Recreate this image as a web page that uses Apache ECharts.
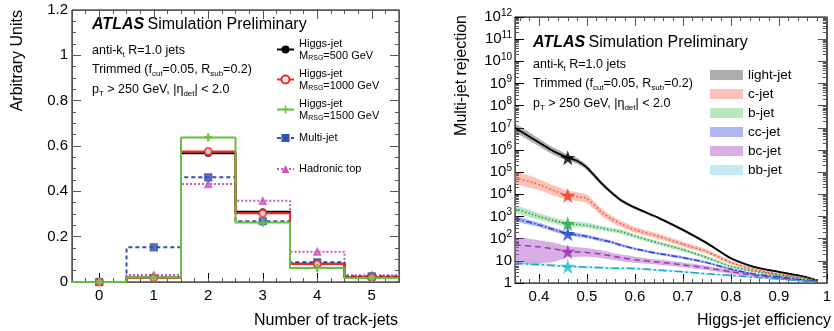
<!DOCTYPE html>
<html>
<head>
<meta charset="utf-8">
<script src="https://cdn.jsdelivr.net/npm/echarts@6/dist/echarts.min.js"></script>
<style>
  html, body { margin: 0; padding: 0; background: #fff; }
  #chart { width: 834px; height: 331px; }
</style>
</head>
<body>
<div id="chart"></div>
<script>
const FONT = '"Liberation Sans", Arial, Helvetica, sans-serif';

// left panel: track-jet multiplicity, normalised
const trackJets = [0, 1, 2, 3, 4, 5];
const higgs500 = [0, 0.020, 0.568, 0.310, 0.080, 0.020];
const higgs1000 = [0, 0.018, 0.576, 0.303, 0.079, 0.020];
const higgs1500 = [0, 0.020, 0.638, 0.262, 0.062, 0.018];
const multiJet = [0, 0.153, 0.462, 0.268, 0.087, 0.025];
const hadTop = [0, 0.031, 0.432, 0.358, 0.134, 0.030];

// right panel: multi-jet rejection vs Higgs-jet efficiency
const effX = [0.35, 0.40, 0.43, 0.46, 0.48, 0.50, 0.53, 0.55, 0.57, 0.60, 0.65, 0.70, 0.75, 0.80, 0.85, 0.90, 0.95, 0.98];
const lightRej = [1.0e7, 2.2e6, 8.9e5, 4.5e5, 3.2e5, 1.6e5, 3.2e4, 1.26e4, 5.6e3, 2.5e3, 850, 250, 63, 13, 5.2, 3.2, 2.0, 1.3];
const cRej = [5.6e4, 2.8e4, 1.5e4, 8.9e3, 7.9e3, 6.3e3, 1.6e3, 800, 480, 250, 126, 56, 26, 8.3, 4.0, 2.5, 1.8, 1.3];
const bRej = [2240, 1000, 660, 470, 440, 400, 300, 250, 210, 130, 63, 32, 14, 5.6, 3.3, 2.3, 1.6, 1.26];
const ccRej = [800, 420, 260, 166, 148, 126, 89, 71, 52, 35, 21, 14, 8.3, 4.2, 2.5, 1.9, 1.4, 1.2];
const bcRej = [52, 43, 35, 26, 25, 24, 20, 16.6, 14, 11.2, 8.7, 6.6, 4.8, 3.2, 2.2, 1.66, 1.3, 1.15];
const bbRej = [7.6, 6.8, 6.2, 5.6, 5.4, 5.2, 4.9, 4.7, 4.6, 4.5, 3.8, 3.2, 2.6, 2.2, 1.8, 1.5, 1.26, 1.12];

// uncertainty bands, in decades above / below the curve
const lightBand = [0.18, 0.17, 0.16, 0.14, 0.13, 0.12, 0.10, 0.09, 0.08, 0.07, 0.06, 0.06, 0.05, 0.05, 0.04, 0.04, 0.04, 0.03];
const cBand = [0.26, 0.25, 0.23, 0.21, 0.20, 0.19, 0.17, 0.15, 0.14, 0.13, 0.12, 0.11, 0.10, 0.09, 0.08, 0.07, 0.05, 0.04];
const bBand = [0.16, 0.15, 0.14, 0.13, 0.13, 0.12, 0.11, 0.10, 0.10, 0.09, 0.08, 0.08, 0.07, 0.06, 0.05, 0.05, 0.04, 0.03];
const ccBand = [0.11, 0.10, 0.10, 0.09, 0.09, 0.08, 0.08, 0.07, 0.07, 0.06, 0.06, 0.06, 0.05, 0.05, 0.04, 0.04, 0.03, 0.03];
const bcBandUp = [0.30, 0.30, 0.28, 0.24, 0.22, 0.20, 0.18, 0.16, 0.15, 0.14, 0.12, 0.11, 0.10, 0.09, 0.08, 0.06, 0.05, 0.04];
const bcBandDown = [0.82, 0.75, 0.60, 0.25, 0.22, 0.20, 0.18, 0.16, 0.15, 0.14, 0.12, 0.11, 0.10, 0.09, 0.08, 0.06, 0.05, 0.04];
const bbBand = [0.07, 0.07, 0.07, 0.06, 0.06, 0.06, 0.06, 0.05, 0.05, 0.05, 0.05, 0.05, 0.04, 0.04, 0.04, 0.03, 0.03, 0.03];

const workingPoint = effX.indexOf(0.46);
const effTicks = [0.4, 0.5, 0.6, 0.7, 0.8, 0.9, 1];

function tickRange(a, b, step) {
  const out = [];
  for (let v = a; v <= b + 1e-9; v += step) out.push(+v.toFixed(4));
  return out;
}

const STAR = 'path://M50,0L61.8,35.1L98.9,35.1L68.8,56.7L80.3,91.9L50,70.1L19.7,91.9L31.2,56.7L1.1,35.1L38.2,35.1Z';

function histo(name, vals, color, lineType, symbol, symbolSize) {
  // bin edges from bin centres, step 'end' keeps each value across its bin
  const edges = trackJets.map((c, i) => [c - 0.5, vals[i]]);
  edges.push([trackJets[trackJets.length - 1] + 0.5, vals[vals.length - 1]]);
  return [{
    type: 'line', name, xAxisIndex: 0, yAxisIndex: 0, step: 'end', data: edges,
    showSymbol: false, symbol, symbolSize,
    lineStyle: { color, width: 2, type: lineType },
    itemStyle: { color, borderColor: color }
  }, {
    type: 'scatter', name, xAxisIndex: 0, yAxisIndex: 0,
    data: trackJets.map((c, i) => [c, vals[i]]),
    symbol, symbolSize,
    itemStyle: { color, borderColor: color, borderWidth: 1.2 }, z: 5
  }];
}

function band(name, rej, up, down, fill) {
  return {
    type: 'custom', name, xAxisIndex: 2, yAxisIndex: 1, silent: true, clip: true, z: 1,
    data: [[effX[0], rej[0]]],
    renderItem(params, api) {
      const top = effX.map((x, i) => api.coord([x, rej[i] * Math.pow(10, up[i])]));
      const bottom = effX.map((x, i) => api.coord([x, rej[i] / Math.pow(10, down[i])])).reverse();
      return { type: 'polygon', shape: { points: top.concat(bottom), smooth: 0.15 }, style: { fill } };
    }
  };
}

function curve(name, rej, color, type, width) {
  return {
    type: 'line', name, xAxisIndex: 2, yAxisIndex: 1, z: 3,
    data: effX.map((x, i) => [x, rej[i]]), smooth: 0.2,
    showSymbol: false, lineStyle: { color, width, type }, itemStyle: { color }
  };
}

function star(name, rej, color) {
  return {
    type: 'scatter', name, xAxisIndex: 2, yAxisIndex: 1, z: 6,
    data: [[effX[workingPoint], rej[workingPoint]]],
    symbol: STAR, symbolSize: 15, itemStyle: { color }
  };
}

const tickLabel = { color: '#000', fontSize: 15, fontFamily: FONT };
const jetMinor = tickRange(-0.5, 5.5, 0.25);
const effMinor = tickRange(0.36, 1.0, 0.02);

// mirror ticks on top edges, kept off the zero line
function topTicks(grid, min, max, values, len) {
  return {
    type: 'value', gridIndex: grid, position: 'top', min, max, splitLine: { show: false },
    axisLine: { show: true, onZero: false }, axisLabel: { show: false },
    axisTick: { show: true, inside: true, length: len, customValues: values }
  };
}

const xAxes = [
  {
    type: 'value', gridIndex: 0, min: -0.5, max: 5.5, splitLine: { show: false },
    axisLine: { show: true },
    axisTick: { show: true, inside: true, length: 9, customValues: trackJets, lineStyle: { color: '#000' } },
    axisLabel: Object.assign({ customValues: trackJets, margin: 6 }, tickLabel)
  },
  {
    type: 'value', gridIndex: 0, position: 'bottom', min: -0.5, max: 5.5, splitLine: { show: false },
    axisLine: { show: true }, axisLabel: { show: false },
    axisTick: { show: true, inside: true, length: 4, customValues: jetMinor }
  },
  {
    type: 'value', gridIndex: 1, min: 0.35, max: 1, splitLine: { show: false },
    axisLine: { show: true },
    axisTick: { show: true, inside: true, length: 9, customValues: effTicks, lineStyle: { color: '#000' } },
    axisLabel: Object.assign({ customValues: effTicks, margin: 6 }, tickLabel)
  },
  {
    type: 'value', gridIndex: 1, position: 'bottom', min: 0.35, max: 1, splitLine: { show: false },
    axisLine: { show: true }, axisLabel: { show: false },
    axisTick: { show: true, inside: true, length: 4, customValues: effMinor }
  },
  topTicks(0, -0.5, 5.5, trackJets, 9),
  topTicks(0, -0.5, 5.5, jetMinor, 4),
  topTicks(1, 0.35, 1, effTicks, 9),
  topTicks(1, 0.35, 1, effMinor, 4)
];

function logLabels(v) {
  const e = Math.round(Math.log10(v));
  if (e === 0) return '{b|1}';
  if (e === 1) return '{b|10}';
  return '{b|10}{s|' + e + '}';
}

const yAxes = [
  {
    type: 'value', gridIndex: 0, min: 0, max: 1.2, interval: 0.2, splitLine: { show: false },
    axisLine: { show: true, onZero: false },
    axisTick: { show: true, inside: true, length: 9 },
    minorTick: { show: true, splitNumber: 4, length: 4 },
    axisLabel: Object.assign({ margin: 4 }, tickLabel)
  },
  {
    type: 'log', logBase: 10, gridIndex: 1, min: 1, max: 1e12, interval: 1, splitLine: { show: false },
    axisLine: { show: true },
    axisTick: { show: true, inside: true, length: 9, lineStyle: { color: '#000' } },
    minorTick: { show: true, splitNumber: 9, length: 4 },
    axisLabel: {
      margin: 3, color: '#000', showMinLabel: true, showMaxLabel: true,
      formatter: logLabels,
      rich: {
        b: { fontSize: 15, fontFamily: FONT, lineHeight: 18, color: '#000' },
        s: { fontSize: 10, fontFamily: FONT, lineHeight: 10, verticalAlign: 'top', color: '#000' }
      }
    }
  },
  // mirror ticks on the right edges
  {
    type: 'value', gridIndex: 0, position: 'right', min: 0, max: 1.2, interval: 0.2, splitLine: { show: false },
    axisLine: { show: true, onZero: false }, axisLabel: { show: false },
    axisTick: { show: true, inside: true, length: 9 },
    minorTick: { show: true, splitNumber: 4, length: 4 }
  },
  {
    type: 'log', logBase: 10, gridIndex: 1, position: 'right', min: 1, max: 1e12, interval: 1, splitLine: { show: false },
    axisLine: { show: true }, axisLabel: { show: false },
    axisTick: { show: true, inside: true, length: 9 },
    minorTick: { show: true, splitNumber: 9, length: 4 }
  }
];

const legendLabels = {
  'Higgs 500': '{t|Higgs-jet}\n{t|M}{s|RSG}{t|=500 GeV}',
  'Higgs 1000': '{t|Higgs-jet}\n{t|M}{s|RSG}{t|=1000 GeV}',
  'Higgs 1500': '{t|Higgs-jet}\n{t|M}{s|RSG}{t|=1500 GeV}',
  'Multi-jet': '{t|Multi-jet}',
  'Hadronic top': '{t|Hadronic top}'
};

function leftLegend(name, top) {
  return {
    data: [name], left: 276, top, orient: 'vertical', padding: 0,
    itemWidth: 17, itemHeight: 10, selectedMode: false,
    formatter: n => legendLabels[n],
    textStyle: {
      color: '#000', fontFamily: FONT, fontSize: 11,
      rich: {
        t: { fontSize: 11, lineHeight: 12, fontFamily: FONT, color: '#000' },
        s: { fontSize: 7, lineHeight: 6, verticalAlign: 'bottom', fontFamily: FONT, color: '#000' }
      }
    }
  };
}

const bandColors = {
  'light-jet': 'rgba(70,70,70,0.45)',
  'c-jet': 'rgba(248,110,85,0.42)',
  'b-jet': 'rgba(105,200,120,0.45)',
  'cc-jet': 'rgba(100,110,225,0.5)',
  'bc-jet': 'rgba(175,95,205,0.5)',
  'bb-jet': 'rgba(120,210,225,0.45)'
};

const subRich = {
  s: { fontSize: 8, lineHeight: 8, verticalAlign: 'bottom', fontFamily: FONT, fill: '#000' }
};

function note(x, y, text) {
  return {
    type: 'text', x, y, silent: true,
    style: { text, fontSize: 12.5, fontFamily: FONT, lineHeight: 16, fill: '#000', verticalAlign: 'middle', rich: subRich }
  };
}

function atlas(x, y) {
  return {
    type: 'text', x, y, silent: true,
    style: {
      text: '{a|ATLAS} {b|Simulation Preliminary}', verticalAlign: 'middle', fill: '#000',
      rich: {
        a: { fontSize: 16, fontWeight: 'bold', fontStyle: 'italic', fontFamily: FONT, fill: '#000' },
        b: { fontSize: 16, fontFamily: FONT, fill: '#000' }
      }
    }
  };
}

function notes(x, y0) {
  return [
    note(x, y0, 'anti-k{s|t} R=1.0 jets'),
    note(x, y0 + 19, 'Trimmed (f{s|cut}=0.05, R{s|sub}=0.2)'),
    note(x, y0 + 39, 'p{s|T} > 250 GeV, |η{s|det}| < 2.0')
  ];
}

function title(x, y, text, rotated) {
  return {
    type: 'text', x, y, rotation: rotated ? Math.PI / 2 : 0, silent: true,
    style: { text, fontSize: 16, fontFamily: FONT, fill: '#000', align: 'right', verticalAlign: 'middle' }
  };
}

const chart = echarts.init(document.getElementById('chart'));

chart.setOption({
  animation: false,
  backgroundColor: '#fff',
  // grid borders give the closed frame of each panel
  grid: [
    { left: 72, top: 10, width: 327, height: 272, show: true, borderColor: '#000', borderWidth: 1, backgroundColor: 'transparent' },
    { left: 515, top: 17, width: 317, height: 266, show: true, borderColor: '#000', borderWidth: 1, backgroundColor: 'transparent' }
  ],
  xAxis: xAxes,
  yAxis: yAxes,
  legend: [
    leftLegend('Higgs 500', 38),
    leftLegend('Higgs 1000', 68),
    leftLegend('Higgs 1500', 98),
    leftLegend('Multi-jet', 132.5),
    leftLegend('Hadronic top', 163.5),
    {
      left: 710, top: 67.5, orient: 'vertical', padding: 0, itemGap: 4,
      itemWidth: 33, itemHeight: 10, selectedMode: false,
      data: Object.keys(bandColors).map(n => ({ name: n, icon: 'rect', itemStyle: { color: bandColors[n] } })),
      textStyle: { color: '#000', fontFamily: FONT, fontSize: 13.5, lineHeight: 15 }
    }
  ],
  graphic: [
    atlas(92, 25),
    ...notes(92, 51),
    atlas(533, 43),
    ...notes(533, 65),
    title(18, 10, 'Arbitrary Units', true),
    title(398, 321, 'Number of track-jets'),
    title(462, 15, 'Multi-jet rejection', true),
    title(831, 321, 'Higgs-jet efficiency')
  ],
  series: [
    ...histo('Hadronic top', hadTop, '#cc55bb', [2, 2], 'triangle', 7),
    ...histo('Multi-jet', multiJet, '#3350b0', [4, 3], 'rect', 7),
    ...histo('Higgs 500', higgs500, '#000000', 'solid', 'circle', 6),
    ...histo('Higgs 1000', higgs1000, '#ff2222', 'solid', 'emptyCircle', 7),
    ...histo('Higgs 1500', higgs1500, '#66c040', 'solid',
      'path://M4,0h2v4h4v2h-4v4h-2v-4h-4v-2h4z', 7),

    band('light-jet', lightRej, lightBand, lightBand, bandColors['light-jet']),
    band('c-jet', cRej, cBand, cBand, bandColors['c-jet']),
    band('b-jet', bRej, bBand, bBand, bandColors['b-jet']),
    band('cc-jet', ccRej, ccBand, ccBand, bandColors['cc-jet']),
    band('bc-jet', bcRej, bcBandUp, bcBandDown, bandColors['bc-jet']),
    band('bb-jet', bbRej, bbBand, bbBand, bandColors['bb-jet']),

    curve('light-jet', lightRej, '#000000', 'solid', 1.8),
    curve('c-jet', cRej, '#f06048', [2, 2], 1.5),
    curve('b-jet', bRej, '#1f9e46', [1.5, 2], 1.5),
    curve('cc-jet', ccRej, '#2444d6', [6, 2, 1.5, 2], 1.5),
    curve('bc-jet', bcRej, '#9a3aa8', [6, 4], 1.5),
    curve('bb-jet', bbRej, '#12a6cc', [8, 3, 2, 3], 1.5),

    star('light-jet', lightRej, '#000000'),
    star('c-jet', cRej, '#ee3322'),
    star('b-jet', bRej, '#22aa44'),
    star('cc-jet', ccRej, '#2244cc'),
    star('bc-jet', bcRej, '#9933aa'),
    star('bb-jet', bbRej, '#22c0c8')
  ]
});
</script>
</body>
</html>
